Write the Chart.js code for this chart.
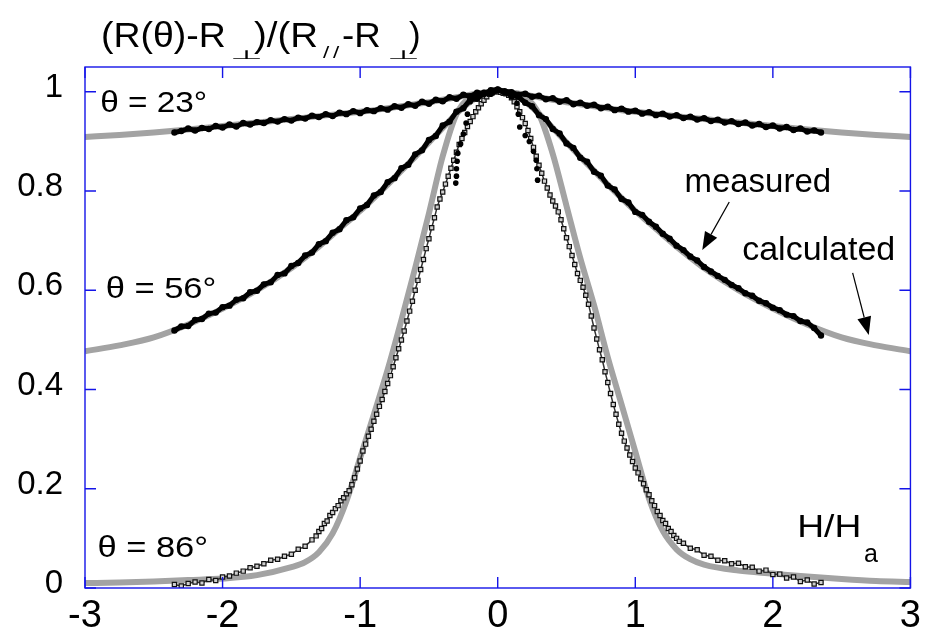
<!DOCTYPE html>
<html>
<head>
<meta charset="utf-8">
<script src="https://cdn.jsdelivr.net/npm/chart.js@4.4.0/dist/chart.umd.min.js"></script>
<style>
  html, body { margin: 0; padding: 0; background: #fff; }
  #wrap { width: 927px; height: 639px; }
</style>
</head>
<body>
<div id="wrap"><canvas id="fieldChart" width="927" height="639"></canvas></div>
<script>
// tick values
var xTicks = [-3, -2, -1, 0, 1, 2, 3];
var yTicks = [0, 0.2, 0.4, 0.6, 0.8, 1];

// calculated curves (grey)
var calcX = [-3, -2.75, -2.5, -2.25, -2, -1.75, -1.5, -1.4, -1.3, -1.2, -1.1, -1, -0.9, -0.8, -0.7, -0.6, -0.5, -0.4, -0.3, -0.2, -0.1,
  0, 0.1, 0.2, 0.3, 0.4, 0.5, 0.6, 0.7, 0.8, 0.9, 1, 1.1, 1.2, 1.3, 1.4, 1.5, 1.75, 2, 2.25, 2.5, 2.75, 3];
var calc23 = [0.909, 0.913, 0.918, 0.924, 0.931, 0.938, 0.945, 0.948, 0.951, 0.954, 0.957, 0.960, 0.963, 0.967, 0.971, 0.975, 0.979, 0.984, 0.989, 0.994, 0.998,
  1.0, 0.998, 0.994, 0.989, 0.984, 0.979, 0.975, 0.971, 0.967, 0.963, 0.960, 0.957, 0.954, 0.951, 0.948, 0.945, 0.938, 0.931, 0.924, 0.918, 0.913, 0.909];
var calc56 = [0.477, 0.489, 0.505, 0.531, 0.563, 0.600, 0.645, 0.666, 0.688, 0.712, 0.736, 0.760, 0.786, 0.813, 0.841, 0.869, 0.898, 0.927, 0.956, 0.980, 0.995,
  1.0, 0.995, 0.980, 0.956, 0.927, 0.898, 0.869, 0.841, 0.813, 0.786, 0.760, 0.736, 0.712, 0.688, 0.666, 0.645, 0.600, 0.563, 0.531, 0.505, 0.489, 0.477];
var calc86 = [0.010, 0.011, 0.013, 0.016, 0.019, 0.026, 0.042, 0.052, 0.072, 0.110, 0.175, 0.262, 0.350, 0.440, 0.540, 0.645, 0.755, 0.870, 0.955, 0.990, 0.998,
  1.0, 0.998, 0.990, 0.955, 0.875, 0.770, 0.665, 0.570, 0.465, 0.370, 0.275, 0.180, 0.115, 0.078, 0.058, 0.047, 0.035, 0.029, 0.023, 0.018, 0.014, 0.012];

// measured, theta = 23 and 56 (filled dots)
var measX = [-2.35, -2.3, -2.25, -2.2, -2.15, -2.1, -2.05, -2, -1.95, -1.9, -1.85, -1.8, -1.75, -1.7, -1.65, -1.6, -1.55, -1.5, -1.45, -1.4,
  -1.35, -1.3, -1.25, -1.2, -1.15, -1.1, -1.05, -1, -0.95, -0.9, -0.85, -0.8, -0.75, -0.7, -0.65, -0.6, -0.55, -0.5, -0.45, -0.4,
  -0.35, -0.3, -0.25, -0.2, -0.15, -0.1, -0.05, 0, 0.05, 0.1, 0.15, 0.2, 0.25, 0.3, 0.35, 0.4, 0.45, 0.5, 0.55, 0.6, 0.65, 0.7,
  0.75, 0.8, 0.85, 0.9, 0.95, 1, 1.05, 1.1, 1.15, 1.2, 1.25, 1.3, 1.35, 1.4, 1.45, 1.5, 1.55, 1.6, 1.65, 1.7, 1.75, 1.8, 1.85,
  1.9, 1.95, 2, 2.05, 2.1, 2.15, 2.2, 2.25, 2.3, 2.35];
var meas23 = [0.918, 0.921, 0.926, 0.922, 0.927, 0.925, 0.931, 0.928, 0.934, 0.930, 0.937, 0.934, 0.939, 0.937, 0.943, 0.940, 0.945, 0.942, 0.948, 0.946,
  0.952, 0.949, 0.955, 0.951, 0.958, 0.955, 0.961, 0.957, 0.963, 0.961, 0.967, 0.964, 0.971, 0.968, 0.975, 0.972, 0.980, 0.976, 0.984, 0.981,
  0.989, 0.986, 0.994, 0.991, 0.998, 0.996, 1.003, 1.005, 1.001, 0.999, 0.994, 0.996, 0.990, 0.992, 0.985, 0.987, 0.980, 0.983, 0.975, 0.978,
  0.972, 0.974, 0.967, 0.970, 0.963, 0.966, 0.960, 0.962, 0.956, 0.959, 0.953, 0.956, 0.950, 0.953, 0.947, 0.950, 0.944, 0.947, 0.941, 0.944,
  0.938, 0.941, 0.935, 0.938, 0.932, 0.935, 0.929, 0.932, 0.926, 0.929, 0.923, 0.926, 0.920, 0.922, 0.918];
var meas56 = [0.519, 0.527, 0.528, 0.540, 0.542, 0.553, 0.555, 0.566, 0.569, 0.581, 0.584, 0.596, 0.599, 0.612, 0.616, 0.631, 0.634, 0.649, 0.655, 0.670,
  0.676, 0.693, 0.699, 0.716, 0.723, 0.741, 0.747, 0.765, 0.772, 0.791, 0.798, 0.818, 0.826, 0.846, 0.853, 0.874, 0.882, 0.903, 0.911, 0.932,
  0.940, 0.960, 0.967, 0.984, 0.986, 0.998, 0.996, 1.004, 0.999, 0.993, 0.990, 0.978, 0.971, 0.953, 0.945, 0.925, 0.916, 0.896, 0.887, 0.867,
  0.859, 0.839, 0.831, 0.811, 0.803, 0.784, 0.777, 0.758, 0.752, 0.738, 0.728, 0.714, 0.704, 0.690, 0.681, 0.668, 0.660, 0.647, 0.638, 0.629,
  0.621, 0.611, 0.604, 0.594, 0.589, 0.579, 0.574, 0.565, 0.560, 0.551, 0.548, 0.538, 0.535, 0.524, 0.509];

// measured, theta = 86 (open squares)
var meas86X = [-2.35, -2.3, -2.25, -2.2, -2.15, -2.1, -2.05, -2, -1.95, -1.9, -1.85, -1.8, -1.75, -1.7, -1.65, -1.6, -1.55, -1.5, -1.45, -1.4, -1.35,
  -1.32, -1.3, -1.28, -1.26, -1.24, -1.22, -1.2, -1.18, -1.16, -1.14, -1.12, -1.1, -1.08, -1.06, -1.04, -1.02, -1, -0.98, -0.96, -0.94,
  -0.92, -0.9, -0.88, -0.86, -0.84, -0.82, -0.8, -0.78, -0.76, -0.74, -0.72, -0.7, -0.68, -0.66, -0.64, -0.62, -0.6, -0.58, -0.56, -0.54,
  -0.52, -0.5, -0.48, -0.46, -0.44, -0.42, -0.4, -0.38, -0.36, -0.34, -0.32, -0.3, -0.28, -0.26, -0.24, -0.22, -0.2, -0.18, -0.16, -0.14,
  -0.12, -0.1, -0.08, -0.06, -0.04, -0.02, 0,
  0.02, 0.04, 0.06, 0.08, 0.1, 0.12, 0.14, 0.16, 0.18, 0.2, 0.22, 0.24, 0.26, 0.28, 0.3, 0.32, 0.34, 0.36, 0.38, 0.4,
  0.42, 0.44, 0.46, 0.48, 0.5, 0.52, 0.54, 0.56, 0.58, 0.6, 0.62, 0.64, 0.66, 0.68, 0.7, 0.72, 0.74, 0.76, 0.78, 0.8,
  0.82, 0.84, 0.86, 0.88, 0.9, 0.92, 0.94, 0.96, 0.98, 1, 1.02, 1.04, 1.06, 1.08, 1.1, 1.12, 1.14, 1.16, 1.18, 1.2,
  1.22, 1.24, 1.26, 1.28, 1.3, 1.32,
  1.35, 1.4, 1.45, 1.5, 1.55, 1.6, 1.65, 1.7, 1.75, 1.8, 1.85, 1.9, 1.95, 2, 2.05, 2.1, 2.15, 2.2, 2.25, 2.3, 2.35];
var meas86Y = [0.007, 0.004, 0.009, 0.012, 0.010, 0.017, 0.015, 0.022, 0.024, 0.030, 0.034, 0.041, 0.044, 0.049, 0.056, 0.058, 0.064, 0.068, 0.078, 0.084, 0.097,
  0.105, 0.114, 0.120, 0.130, 0.135, 0.146, 0.152, 0.160, 0.166, 0.176, 0.182, 0.190, 0.196, 0.208, 0.222, 0.240, 0.256, 0.276, 0.290, 0.306,
  0.320, 0.336, 0.350, 0.366, 0.380, 0.396, 0.412, 0.428, 0.446, 0.464, 0.482, 0.500, 0.518, 0.538, 0.558, 0.578, 0.600, 0.620, 0.642, 0.662,
  0.684, 0.704, 0.726, 0.746, 0.768, 0.784, 0.798, 0.814, 0.830, 0.846, 0.862, 0.878, 0.894, 0.906, 0.918, 0.930, 0.940, 0.950, 0.960, 0.968,
  0.976, 0.983, 0.990, 0.995, 0.998, 1.000, 1.002,
  0.999, 0.997, 0.996, 0.993, 0.988, 0.980, 0.970, 0.960, 0.948, 0.936, 0.922, 0.906, 0.888, 0.870, 0.852, 0.836, 0.820, 0.806, 0.792, 0.780,
  0.770, 0.758, 0.742, 0.724, 0.706, 0.688, 0.670, 0.652, 0.634, 0.620, 0.606, 0.590, 0.572, 0.548, 0.524, 0.502, 0.480, 0.460, 0.436, 0.414,
  0.392, 0.370, 0.350, 0.330, 0.312, 0.296, 0.282, 0.268, 0.255, 0.242, 0.232, 0.220, 0.210, 0.198, 0.188, 0.176, 0.166, 0.154, 0.146, 0.136,
  0.130, 0.120, 0.114, 0.106, 0.100, 0.094,
  0.090, 0.080, 0.077, 0.066, 0.064, 0.056, 0.055, 0.049, 0.050, 0.043, 0.042, 0.034, 0.036, 0.027, 0.028, 0.020, 0.022, 0.013, 0.016, 0.008, 0.011];

// stray branch of dots near H = 0
var branchX = [-0.1, -0.15, -0.2, -0.22, -0.23, -0.25, -0.27, -0.29, -0.295, -0.3, -0.3, -0.305,
  0.06, 0.1, 0.14, 0.15, 0.16, 0.2, 0.23, 0.26, 0.28, 0.285, 0.29];
var branchY = [0.995, 0.99, 0.98, 0.955, 0.937, 0.915, 0.895, 0.876, 0.86, 0.845, 0.83, 0.816,
  0.998, 0.99, 0.977, 0.955, 0.929, 0.912, 0.9, 0.88, 0.862, 0.845, 0.822];

function pts(xs, ys) {
  return xs.map(function (x, i) { return { x: x, y: ys[i] }; });
}

var FONT = '"Liberation Sans", Arial, sans-serif';

function txt(ctx, s, x, y, size, sx, sy, family) {
  ctx.save();
  ctx.translate(x, y);
  ctx.scale(sx || 1, sy || 1);
  ctx.font = size + 'px ' + (family || FONT);
  ctx.textAlign = 'left';
  ctx.textBaseline = 'alphabetic';
  ctx.fillStyle = '#000';
  ctx.fillText(s, 0, 0);
  ctx.restore();
}

function arrow(ctx, x1, y1, x2, y2) {
  var a = Math.atan2(y2 - y1, x2 - x1), len = 18, half = 7;
  var bx = x2 - Math.cos(a) * len, by = y2 - Math.sin(a) * len;
  ctx.beginPath();
  ctx.moveTo(x1, y1);
  ctx.lineTo(bx, by);
  ctx.stroke();
  ctx.beginPath();
  ctx.moveTo(x2, y2);
  ctx.lineTo(bx + Math.sin(a) * half, by - Math.cos(a) * half);
  ctx.lineTo(bx - Math.sin(a) * half, by + Math.cos(a) * half);
  ctx.closePath();
  ctx.fill();
}

var decor = {
  id: 'decor',
  afterDatasetsDraw: function (chart) {
    var ctx = chart.ctx, a = chart.chartArea;
    var sx = chart.scales.x, sy = chart.scales.y;
    ctx.save();
    // blue frame with inward ticks on every side
    ctx.strokeStyle = '#1414e8';
    ctx.lineWidth = 1.4;
    ctx.strokeRect(a.left, a.top, a.right - a.left, a.bottom - a.top);
    ctx.beginPath();
    xTicks.forEach(function (v) {
      var p = sx.getPixelForValue(v);
      ctx.moveTo(p, a.bottom); ctx.lineTo(p, a.bottom - 11);
      ctx.moveTo(p, a.top); ctx.lineTo(p, a.top + 11);
    });
    yTicks.forEach(function (v) {
      var p = sy.getPixelForValue(v);
      ctx.moveTo(a.left, p); ctx.lineTo(a.left + 11, p);
      ctx.moveTo(a.right, p); ctx.lineTo(a.right - 11, p);
    });
    ctx.stroke();

    function px(x) { return sx.getPixelForValue(x); }
    function py(y) { return sy.getPixelForValue(y); }

    // curve labels
    txt(ctx, 'θ = 23°', px(-2.89), py(0.959), 29, 1.15);
    txt(ctx, 'θ = 56°', px(-2.85), py(0.584), 30, 1.15);
    txt(ctx, 'θ = 86°', px(-2.91), py(0.063), 30, 1.15);
    txt(ctx, 'measured', px(1.357), py(0.798), 33);
    txt(ctx, 'calculated', px(1.777), py(0.661), 34);
    txt(ctx, 'H/H', px(2.177), py(0.103), 31, 1.2);
    txt(ctx, 'a', px(2.663), py(0.052), 25);

    ctx.strokeStyle = '#000';
    ctx.fillStyle = '#000';
    ctx.lineWidth = 1.2;
    arrow(ctx, px(1.683), py(0.778), px(1.487), py(0.681));
    arrow(ctx, px(2.58), py(0.635), px(2.697), py(0.51));

    // axis title at the top
    txt(ctx, '(R(θ)-R', 101, 47, 35, 1.07);
    txt(ctx, '⊥', 230, 59, 38, 1, 0.33, '"DejaVu Sans", sans-serif');
    txt(ctx, ')/(R', 254, 47, 35, 1.1);
    txt(ctx, '/', 323, 58, 16, 1.4);
    txt(ctx, '/', 333, 58, 16, 1.4);
    txt(ctx, '-R', 342, 47, 35, 1.05);
    txt(ctx, '⊥', 387, 59, 38, 1, 0.33, '"DejaVu Sans", sans-serif');
    txt(ctx, ')', 409, 47, 35);
    ctx.restore();
  }
};

var ctxField = document.getElementById('fieldChart').getContext('2d');

var fieldChart = new Chart(ctxField, {
  type: 'scatter',
  data: {
    datasets: [
      {
        label: 'θ = 86° measured',
        data: pts(meas86X, meas86Y),
        showLine: true,
        borderColor: '#333',
        borderWidth: 1.5,
        pointStyle: 'rect',
        pointRadius: 3,
        pointBorderWidth: 1.2,
        pointBorderColor: '#111',
        pointBackgroundColor: '#cfcfcf',
        order: 3,
      },
      {
        label: 'branch',
        data: pts(branchX, branchY),
        showLine: false,
        pointRadius: 2.8,
        pointBorderWidth: 0,
        pointBackgroundColor: '#000',
        order: 2,
      },
      {
        label: 'θ = 23° measured',
        data: pts(measX, meas23),
        showLine: true,
        borderColor: '#000',
        borderWidth: 5,
        pointRadius: 3.2,
        pointBorderWidth: 0,
        pointBackgroundColor: '#000',
        order: 1,
      },
      {
        label: 'θ = 56° measured',
        data: pts(measX, meas56),
        showLine: true,
        borderColor: '#000',
        borderWidth: 5,
        pointRadius: 3.2,
        pointBorderWidth: 0,
        pointBackgroundColor: '#000',
        order: 1,
      },
      {
        label: 'θ = 23° calculated',
        data: pts(calcX, calc23),
        showLine: true,
        borderColor: '#a3a3a3',
        borderWidth: 6,
        pointRadius: 0,
        cubicInterpolationMode: 'monotone',
        order: 10,
      },
      {
        label: 'θ = 56° calculated',
        data: pts(calcX, calc56),
        showLine: true,
        borderColor: '#a3a3a3',
        borderWidth: 6,
        pointRadius: 0,
        cubicInterpolationMode: 'monotone',
        order: 10,
      },
      {
        label: 'θ = 86° calculated',
        data: pts(calcX, calc86),
        showLine: true,
        borderColor: '#a3a3a3',
        borderWidth: 6,
        pointRadius: 0,
        cubicInterpolationMode: 'monotone',
        order: 10,
      },
    ],
  },
  options: {
    responsive: false,
    animation: false,
    devicePixelRatio: 1,
    layout: { padding: { top: 67, right: 15, left: 0, bottom: 0 } },
    plugins: { legend: { display: false }, tooltip: { enabled: false } },
    scales: {
      x: {
        type: 'linear',
        min: -3,
        max: 3,
        afterBuildTicks: function (s) { s.ticks = xTicks.map(function (v) { return { value: v }; }); },
        afterFit: function (s) { s.height = 51; },
        grid: { display: false, drawTicks: false },
        border: { display: false },
        ticks: {
          color: '#000', font: { family: FONT, size: 38 }, padding: 6, maxRotation: 0, autoSkip: false,
          callback: function (v) { return String(v); },
        },
      },
      y: {
        type: 'linear',
        min: 0,
        max: 1.05,
        afterBuildTicks: function (s) { s.ticks = yTicks.map(function (v) { return { value: v }; }); },
        afterFit: function (s) { s.width = 85; },
        grid: { display: false, drawTicks: false },
        border: { display: false },
        ticks: {
          color: '#000', font: { family: FONT, size: 33 }, padding: 22, labelOffset: -4,
          callback: function (v) { return String(v); },
        },
      },
    },
  },
  plugins: [decor],
});
</script>
</body>
</html>
